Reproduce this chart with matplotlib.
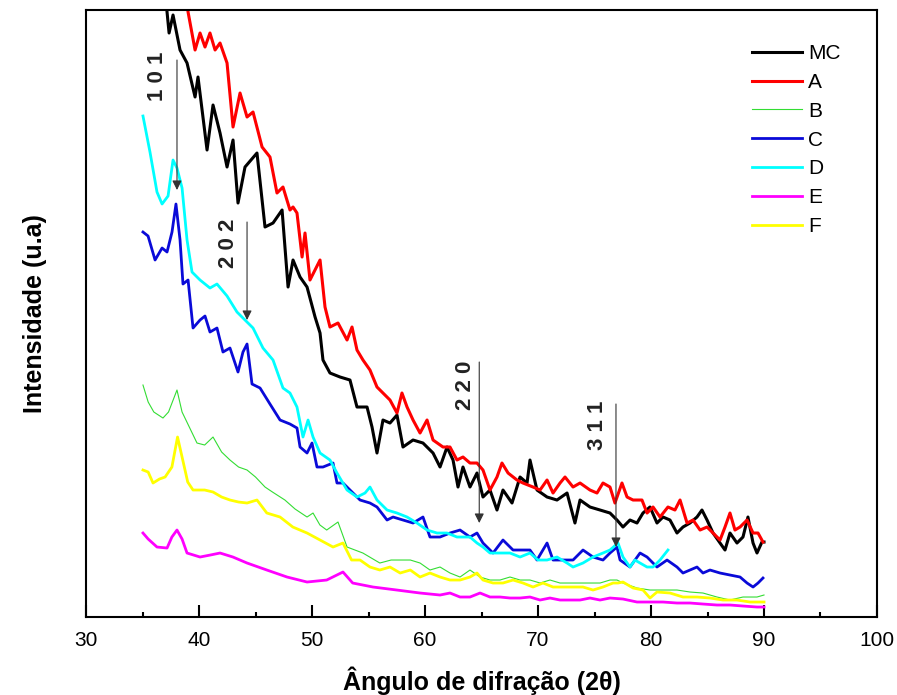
import matplotlib
matplotlib.use("Agg")
import matplotlib.pyplot as plt
from matplotlib.ticker import MultipleLocator

plt.rcParams['font.family'] = ['Liberation Sans', 'DejaVu Sans']

# ---------------- data (2theta in degrees, intensity in arbitrary units) ----------------
mc_x = [37.0, 37.17, 37.35, 37.7, 38.32, 38.94, 39.65, 39.91, 40.71, 41.24, 41.86, 42.48, 43.01, 43.45,
        44.07, 45.13, 45.84, 46.55, 47.35, 47.88, 48.32, 48.94, 49.56, 50.27, 50.71, 50.97, 51.59, 52.48,
        53.36, 53.98, 54.87, 55.31, 55.75, 56.28, 56.9, 57.52, 58.05, 58.94, 59.82, 60.71, 61.33, 61.95,
        62.48, 62.92, 63.36, 63.98, 64.6, 65.13, 65.75, 66.37, 66.9, 67.7, 68.41, 69.03, 69.29, 69.91,
        70.8, 71.68, 72.57, 73.27, 73.72, 74.6, 75.49, 76.37, 76.99, 77.52, 78.14, 78.76, 79.29, 79.91,
        80.53, 81.06, 81.68, 82.3, 82.83, 83.45, 84.07, 84.51, 84.96, 85.49, 86.11, 86.55, 86.99, 87.61,
        88.14, 88.58, 89.03, 89.38, 89.82, 90.0]
mc_y = [625, 605, 584, 602, 567, 554, 520, 540, 467, 512, 484, 450, 477, 414,
        450, 464, 390, 394, 407, 330, 357, 340, 330, 300, 284, 257, 244, 240,
        237, 210, 210, 190, 164, 197, 194, 202, 170, 177, 174, 164, 150, 170,
        157, 130, 150, 130, 144, 120, 127, 107, 127, 114, 140, 134, 157, 127,
        120, 117, 124, 94, 117, 110, 107, 104, 97, 90, 97, 94, 104, 110,
        94, 100, 97, 84, 90, 94, 100, 107, 97, 84, 74, 67, 84, 74,
        80, 100, 74, 64, 75, 75]

a_x = [38.8, 39.03, 39.65, 40.09, 40.53, 40.97, 41.42, 41.86, 42.48, 43.01, 43.63, 44.25, 44.78, 45.58,
       46.28, 46.9, 47.43, 48.05, 48.32, 48.67, 49.12, 49.38, 49.82, 50.71, 51.15, 51.59, 52.3, 53.1,
       53.54, 53.98, 54.51, 55.13, 55.75, 56.28, 56.9, 57.52, 57.96, 58.41, 58.94, 59.56, 60.18, 60.71,
       61.59, 62.21, 62.83, 63.36, 63.98, 64.6, 65.13, 65.75, 66.37, 66.81, 67.35, 68.14, 68.67, 69.56,
       70.18, 70.8, 71.33, 71.95, 72.39, 73.1, 73.72, 74.6, 75.22, 75.75, 76.37, 76.81, 77.43, 77.88,
       78.41, 79.2, 79.65, 80.18, 80.8, 81.5, 82.12, 82.57, 83.19, 83.72, 84.34, 84.96, 85.49, 86.11,
       86.55, 86.99, 87.43, 87.88, 88.5, 89.03, 89.47, 89.91]
a_y = [625, 605, 567, 584, 570, 584, 567, 574, 554, 490, 524, 500, 505, 470,
       460, 424, 430, 407, 410, 404, 360, 384, 337, 357, 310, 290, 294, 277,
       290, 267, 257, 247, 230, 224, 217, 204, 224, 210, 197, 184, 197, 177,
       170, 170, 157, 160, 154, 154, 147, 127, 140, 154, 144, 137, 134, 130,
       127, 137, 124, 134, 140, 130, 134, 127, 124, 134, 130, 114, 134, 120,
       117, 117, 104, 110, 100, 110, 107, 117, 94, 97, 87, 90, 84, 77,
       90, 104, 87, 90, 97, 84, 84, 75]

b_x = [35.04, 35.5, 36.0, 36.81, 37.3, 38.05, 38.5, 39.82, 40.5, 41.24, 42.0, 42.74, 43.5, 44.25, 45.0,
       45.84, 46.5, 47.6, 48.5, 49.56, 50.09, 50.7, 51.3, 52.3, 53.1, 54.5, 56.0, 57.0, 57.8, 58.7,
       59.56, 60.44, 61.33, 62.21, 63.1, 63.98, 64.87, 65.75, 66.64, 67.52, 68.41, 69.29, 70.18, 71.06,
       71.95, 72.83, 73.72, 74.6, 75.49, 76.37, 76.99, 77.52, 78.76, 79.91, 81.06, 82.3, 83.45, 84.6,
       85.84, 86.99, 88.14, 89.38, 90.0]
b_y = [232, 215, 205, 199, 205, 227, 205, 174, 172, 180, 165, 157, 150, 147, 140,
       130, 125, 117, 108, 100, 104, 92, 87, 95, 70, 64, 54, 57, 57, 57,
       54, 47, 50, 44, 40, 47, 40, 37, 37, 40, 37, 37, 34, 37,
       34, 34, 34, 34, 34, 37, 37, 34, 29, 27, 27, 27, 25, 24,
       20, 17, 20, 20, 22]

c_x = [35.04, 35.49, 36.11, 36.73, 37.17, 37.61, 37.96, 38.32, 38.58, 39.03, 39.47, 40.09, 40.53, 40.97,
       41.59, 42.12, 42.74, 43.45, 43.89, 44.25, 44.69, 45.4, 46.28, 47.17, 48.05, 48.67, 48.94, 49.56,
       50.0, 50.44, 50.97, 51.86, 52.21, 52.74, 53.63, 54.25, 55.13, 55.75, 56.64, 57.17, 58.05, 58.94,
       59.82, 60.44, 61.33, 62.21, 63.1, 63.98, 64.6, 65.13, 66.02, 66.9, 67.79, 68.67, 69.29, 69.91,
       70.8, 71.33, 72.21, 73.1, 73.98, 74.87, 75.75, 76.37, 76.99, 77.26, 78.14, 79.03, 79.65, 80.53,
       81.42, 82.3, 82.83, 84.07, 84.6, 85.22, 86.11, 86.99, 87.88, 88.5, 89.03, 89.47, 89.91]
c_y = [385, 381, 357, 369, 365, 385, 413, 377, 333, 337, 289, 297, 301, 285,
       289, 265, 269, 245, 265, 273, 233, 229, 213, 197, 193, 189, 170, 164,
       174, 150, 150, 154, 134, 134, 124, 117, 114, 110, 97, 100, 97, 94,
       100, 80, 80, 84, 87, 80, 84, 74, 64, 77, 67, 67, 67, 57,
       74, 57, 57, 57, 67, 60, 57, 64, 70, 57, 50, 64, 60, 50,
       57, 50, 44, 50, 44, 47, 44, 42, 40, 34, 30, 34, 39]

d_x = [35.04, 35.66, 36.28, 36.73, 37.26, 37.7, 38.05, 38.5, 38.94, 39.38, 40.09, 40.97, 41.59, 42.48,
       43.36, 44.07, 44.78, 45.66, 46.55, 47.43, 48.05, 48.67, 49.2, 49.65, 50.09, 50.71, 51.59, 52.21,
       53.1, 53.98, 54.69, 55.13, 55.75, 56.64, 57.52, 58.41, 59.29, 60.18, 61.06, 61.95, 62.83, 63.36,
       63.98, 64.6, 65.13, 65.75, 66.64, 67.52, 68.41, 69.29, 70.0, 70.8, 71.68, 72.57, 73.1, 73.98,
       74.87, 75.75, 76.37, 77.08, 77.52, 78.14, 78.58, 79.03, 79.65, 80.18, 80.8, 81.5]
d_y = [501, 465, 425, 413, 421, 457, 449, 429, 377, 345, 337, 329, 333, 321,
       305, 297, 289, 269, 257, 229, 224, 210, 180, 197, 180, 164, 157, 144,
       127, 120, 124, 130, 117, 107, 104, 100, 94, 87, 84, 84, 80, 80,
       80, 74, 70, 64, 64, 64, 60, 64, 57, 57, 60, 54, 50, 54,
       60, 64, 67, 74, 60, 50, 57, 54, 50, 50, 57, 67]

e_x = [35.04, 35.5, 36.28, 37.17, 37.6, 38.05, 38.5, 38.94, 40.09, 41.0, 41.86, 43.0, 44.25, 46.0,
       47.79, 49.56, 51.3, 52.74, 53.6, 55.4, 57.5, 59.56, 61.33, 62.21, 63.1, 63.98, 64.87, 65.75,
       66.64, 67.52, 68.41, 69.29, 70.18, 71.06, 71.95, 72.83, 73.72, 74.6, 75.49, 76.37, 77.52, 78.76,
       79.91, 81.06, 82.3, 83.45, 84.6, 85.84, 86.99, 88.14, 89.38, 90.0]
e_y = [84, 78, 70, 69, 80, 87, 78, 64, 60, 62, 64, 60, 54, 47,
       40, 35, 37, 45, 34, 30, 27, 24, 22, 24, 20, 20, 24, 20,
       20, 19, 19, 20, 17, 19, 17, 17, 17, 19, 17, 19, 18, 15,
       15, 15, 14, 14, 13, 12, 12, 11, 10, 10]

f_x = [35.04, 35.5, 35.93, 36.5, 37.0, 37.6, 38.1, 38.5, 39.0, 39.47, 40.5, 41.24, 42.0, 42.74, 43.5,
       44.25, 45.13, 46.0, 47.17, 48.3, 49.56, 50.71, 51.86, 52.74, 53.5, 54.25, 55.13, 56.0, 56.9,
       57.8, 58.7, 59.56, 60.44, 61.33, 62.21, 63.1, 63.98, 64.6, 65.13, 66.02, 66.9, 67.79, 68.67,
       69.56, 70.44, 71.33, 72.21, 73.1, 73.98, 74.87, 75.75, 76.64, 77.08, 77.52, 78.41, 79.29, 79.91,
       80.53, 81.68, 82.83, 84.07, 85.22, 86.37, 87.61, 88.76, 90.0]
f_y = [147, 145, 134, 138, 140, 150, 180, 160, 135, 127, 127, 125, 120, 117, 115,
       114, 117, 104, 100, 90, 84, 77, 70, 74, 57, 57, 50, 47, 50,
       44, 47, 40, 44, 40, 37, 37, 40, 44, 37, 34, 34, 37, 34,
       30, 34, 30, 30, 30, 30, 27, 30, 34, 34, 35, 29, 27, 19,
       25, 24, 20, 20, 19, 17, 17, 15, 15]

series_names = ['MC', 'A', 'B', 'C', 'D', 'E', 'F']

# peak annotations (Miller indices)
peak_labels = ['1 0 1', '2 0 2', '2 2 0', '3 1 1']
peak_angles = [38.05, 44.25, 64.8, 76.9]
peak_tip = [427, 297, 94, 70]
peak_top = [557, 395, 255, 213]
label_angles = [36.35, 42.6, 63.6, 75.3]
label_y = [541, 374, 232, 192]

# ---------------- plot ----------------
fig = plt.figure(figsize=(8.97, 6.95), dpi=100)
ax = fig.add_axes([0.0959, 0.1122, 0.8818, 0.8734])

xs = [mc_x, a_x, b_x, c_x, d_x, e_x, f_x]
ys = [mc_y, a_y, b_y, c_y, d_y, e_y, f_y]
colors = ['#000000', '#FF0000', '#33DD33', '#0A0AD8', '#00FFFF', '#FF00FF', '#FFFF00']
widths = [2.2, 2.2, 0.8, 2.0, 2.0, 2.0, 2.0]
for x, y, n, c, w in zip(xs, ys, series_names, colors, widths):
    ax.plot(x, y, color=c, lw=w, label=n, solid_joinstyle='round')

for lab, xa, yt, yb, lx, ly in zip(peak_labels, peak_angles, peak_tip, peak_top, label_angles, label_y):
    ax.annotate('', xy=(xa, yt), xytext=(xa, yb),
                arrowprops=dict(arrowstyle='-|>', color='#333333', lw=0.8,
                                mutation_scale=14, shrinkA=0, shrinkB=0))
    ax.text(lx, ly, lab, rotation=90, ha='center', va='center',
            fontsize=16, fontweight='bold', color='#222222')

ax.set_xlim(30, 100)
ax.set_ylim(0, 607)
ax.xaxis.set_major_locator(MultipleLocator(10))
ax.xaxis.set_minor_locator(MultipleLocator(5))
ax.set_yticks([])
ax.tick_params(axis='x', which='major', direction='in', length=8.5, width=1.5,
               labelsize=15, pad=10, top=False)
ax.tick_params(axis='x', which='minor', direction='in', length=3.6, width=1.5, top=False)
for s in ax.spines.values():
    s.set_linewidth(1.5)

ax.set_xlabel('Ângulo de difração (2θ)', fontsize=18, fontweight='bold', labelpad=12)
ax.set_ylabel('Intensidade (u.a)', fontsize=18, fontweight='bold', labelpad=28)

leg = ax.legend(loc='upper left', bbox_to_anchor=(0.842, 0.9437), frameon=False,
                fontsize=15, handlelength=2.4, handletextpad=0.3, labelspacing=0.47,
                borderpad=0, borderaxespad=0)

fig.savefig('out.png', dpi=100)
